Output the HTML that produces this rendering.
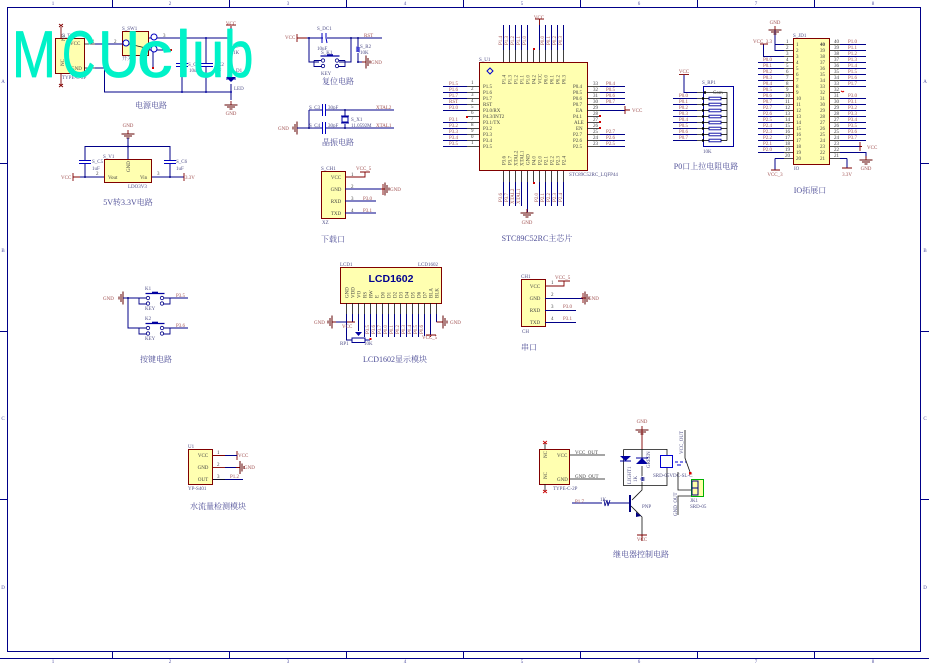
<!DOCTYPE html>
<html><head><meta charset="utf-8"><style>
html,body{margin:0;padding:0;background:#fff}
svg{display:block}
text{font-family:"Liberation Serif","Noto Serif CJK SC",serif}
.n{stroke:#000088;fill:none;stroke-width:1}
.k{stroke:#111;fill:none;stroke-width:.8}
.b{stroke:#800000;fill:none;stroke-width:.9}
.box{stroke:#800000;fill:#ffffb0;stroke-width:1}
.p{font-size:5px;fill:#444}
.w{font-size:5px;fill:#a05050}
.d{font-size:5px;fill:#505088}
.t{font-size:8px;fill:#505098;text-anchor:middle}
.m{text-anchor:middle}
.z{font-size:5px;fill:#5050a0;text-anchor:middle}
.logo text{font-family:"Liberation Sans",sans-serif;font-size:66px;fill:#00f2c8;stroke:#00f2c8;stroke-width:.8px;stroke-linejoin:round}
</style></head><body>
<svg width="929" height="665" viewBox="0 0 929 665" xmlns="http://www.w3.org/2000/svg">
<defs>
<g id="gd" fill="none"><path d="M0 -4V0" stroke="#800000" stroke-width=".9"/><path d="M-6.5 0H6.5" stroke="#600000" stroke-width="1"/><path d="M-4 2H4" stroke="#600000" stroke-width="1"/><path d="M-1.5 4H1.5" stroke="#600000" stroke-width="1"/></g>
<g id="key" fill="none"><path d="M-9.5 -4.5H9.5" stroke="#0000a0" stroke-width="1.2"/><path d="M-3 -5.5H3" stroke="#0000a0" stroke-width="1.6"/><path d="M-16 0V6H-8M-16 0H-8.500M15 0V6H8M15 0H8.500" stroke="#000088" stroke-width=".9"/><circle cx="-7" cy="0" r="1.7" stroke="#000088" stroke-width=".8"/><circle cx="-7" cy="5.500" r="1.7" stroke="#000088" stroke-width=".8"/><circle cx="7" cy="0" r="1.7" stroke="#000088" stroke-width=".8"/><circle cx="7" cy="5.500" r="1.7" stroke="#000088" stroke-width=".8"/></g>
<g id="cv" stroke="#0000c0" stroke-width="1" fill="none"><path d="M-6 -1.500H6M-6 1.500H6"/></g>
<g id="ch" stroke="#0000c0" stroke-width="1" fill="none"><path d="M-1.500 -6V6M1.500 -6V6"/></g>
<g id="rp" fill="none"><path d="M-11 0H-4" stroke="#000" stroke-width=".8"/><rect x="-5" y="-1.300" width="12" height="2.600" stroke="#0000a0" stroke-width=".9" fill="#fff"/><path d="M7 0H13" stroke="#000" stroke-width=".8"/><rect x="-12" y="-1.200" width="2" height="2.400" fill="#000"/></g>
</defs>

<!-- frame -->
<rect x="7.500" y="7.500" width="913" height="644" fill="none" stroke="#000088" stroke-width="1"/>
<path d="M112.500 0V7M229.500 0V7M346.500 0V7M463.500 0V7M580.500 0V7M697.500 0V7M814.500 0V7M112.500 652V659M229.500 652V659M346.500 652V659M463.500 652V659M580.500 652V659M697.500 652V659M814.500 652V659M0 163.500H7M0 331.500H7M0 499.500H7M921 163.500H929M921 331.500H929M921 499.500H929M0 658.500H929" class="n"/>
<g class="z"><text x="53" y="5">1</text><text x="170" y="5">2</text><text x="288" y="5">3</text><text x="405" y="5">4</text><text x="522" y="5">5</text><text x="639" y="5">6</text><text x="756" y="5">7</text><text x="873" y="5">8</text>
<text x="53" y="663">1</text><text x="170" y="663">2</text><text x="288" y="663">3</text><text x="405" y="663">4</text><text x="522" y="663">5</text><text x="639" y="663">6</text><text x="756" y="663">7</text><text x="873" y="663">8</text>
<text x="3" y="83">A</text><text x="3" y="252">B</text><text x="3" y="420">C</text><text x="3" y="589">D</text><text x="925" y="83">A</text><text x="925" y="252">B</text><text x="925" y="420">C</text><text x="925" y="589">D</text></g>

<!-- power -->
<rect x="55.500" y="38.500" width="29" height="35" class="box"/>
<path class="b" d="M61 38V27M61 73V85M59 24l4 3M63 24l-4 3M59 84l4 3M63 84l-4 3" stroke="#a00"/>
<path class="k" d="M84 44H95M84 68H95"/>
<path class="n" d="M95 44H122M95 68H104.500V92H231M148 38H232M182 38V63M182 67V92M206 38V63M206 67V92M231 26V38M231 38V70M231 84V100M148 50H171M153 50V69"/>
<path class="b" d="M231 26V28M226 25H236"/>
<g fill="#0000a0"><circle cx="182" cy="92" r="1"/><circle cx="206" cy="92" r="1"/><circle cx="231" cy="92" r="1"/><circle cx="206" cy="38" r="1"/><circle cx="231" cy="38" r="1"/></g>
<g fill="#d00000"><rect x="170" y="49" width="2" height="2"/><rect x="152" y="67" width="2" height="2"/></g>
<use href="#cv" x="182" y="65"/><use href="#cv" x="207" y="65"/>
<path d="M226 77L231 82L236 77Z" fill="#0000a0"/><path d="M226 79H236" stroke="#0000a0"/>
<use href="#gd" x="231" y="105"/>
<rect x="122.500" y="31.500" width="26" height="24" class="box"/>
<circle cx="126" cy="43" r="3" fill="#fff" stroke="#0000c0"/><circle cx="154" cy="37" r="3" fill="#fff" stroke="#0000c0"/><circle cx="154" cy="49" r="3" fill="#fff" stroke="#0000c0"/>
<path d="M129 44L150 49" class="k"/>
<text class="d" x="62" y="37">S_T1</text><text class="d" x="62" y="79">TYPE-C-2P</text><text class="p" x="67" y="47" transform="rotate(-90 63 45)">NC</text><text class="p" x="62" y="68" transform="rotate(-90 62 66)">NC</text><text class="p" x="70" y="45">VCC</text><text class="p" x="71" y="70">GND</text>
<text class="d" x="122" y="30">S_SW1</text><text class="d" x="122" y="60">开关</text><text class="p" x="92" y="43">1</text><text class="p" x="114" y="43">2</text><text class="p" x="163" y="37">3</text><text class="p" x="90" y="67">2</text>
<text class="w" x="231" y="25" text-anchor="middle">VCC</text><text class="w" x="231" y="115" text-anchor="middle">GND</text>
<text class="d" x="188" y="66">S_C1</text><text class="d" x="189" y="72">10uF</text><text class="d" x="218" y="66">C2</text><text class="d" x="216" y="72">uF</text><text class="d" x="233" y="47">S_R1</text><text class="d" x="233" y="54">1K</text><text class="d" x="236" y="72">D1</text><text class="d" x="234" y="90">LED</text>
<text class="t" x="151" y="108">电源电路</text>

<!-- 5v -->
<use href="#gd" x="128" y="134"/><text class="w m" x="128" y="127">GND</text>
<path class="n" d="M85 146.500H170M128 138V159M85 146V160M85 164V177M170 146V160M170 164V177M80 177H104M151 177H184"/>
<path class="b" d="M73 177H80M73 173V181M184 177H184M184 173V181"/>
<circle cx="128" cy="146.500" r="1" fill="#000088"/><circle cx="85" cy="177" r="1" fill="#000088"/><circle cx="170" cy="177" r="1" fill="#000088"/>
<use href="#cv" x="85" y="162"/><use href="#cv" x="170" y="162"/>
<rect x="104.500" y="159.500" width="47" height="23" class="box"/>
<text class="d" x="103" y="158">S_V1</text><text class="d" x="92" y="163">S_C5</text><text class="d" x="92" y="170">1uF</text><text class="d" x="176" y="163">S_C6</text><text class="d" x="176" y="170">1uF</text>
<text class="p" x="108" y="179">Vout</text><text class="p" x="140" y="179">Vin</text><text class="p" x="130" y="172" transform="rotate(-90 130 172)">GND</text><text class="p" x="96" y="175">2</text><text class="p" x="157" y="175">3</text><text class="d" x="128" y="188">LDO3V3</text>
<text class="w" x="61" y="179">VCC</text><text class="w" x="185" y="179">3.3V</text>
<text class="t" x="128" y="205">5V转3.3V电路</text>

<!-- reset -->
<text class="w" x="285" y="39">VCC</text><path class="b" d="M297 34V42M297 38H307"/>
<path class="n" d="M307 38H323M327 38H382M309 38V62H319M351 38V62H339M358 38V47M358 53V62H364"/>
<circle cx="309" cy="38" r="1" fill="#000088"/><circle cx="351" cy="38" r="1" fill="#000088"/><circle cx="358" cy="38" r="1" fill="#000088"/><circle cx="358" cy="62" r="1" fill="#000088"/>
<path d="M322 33V43M326 33V38L327 43" stroke="#0000c0" fill="none"/>
<use href="#key" x="330" y="60.500"/>
<path d="M356 47l4 1l-4 1l4 1l-4 1l4 1" stroke="#0000c0" fill="none" stroke-width=".8"/>
<use href="#gd" transform="translate(366 62) rotate(-90)"/>
<text class="d" x="317" y="30">S_DC1</text><text class="d" x="317" y="50">10uF</text><text class="d" x="321" y="54">S_K1</text><text class="d" x="321" y="75">KEY</text><text class="w" x="364" y="37">RST</text><text class="d" x="360" y="48">S_R2</text><text class="d" x="360" y="54">10K</text><text class="w" x="371" y="64">GND</text>
<text class="t" x="338" y="84">复位电路</text>

<!-- crystal -->
<text class="w" x="278" y="130">GND</text><use href="#gd" transform="translate(297 128) rotate(90)"/>
<path class="n" d="M297 128H322M326 128H394M326 110H394M309 110H322M309 110V128M345 110V116M345 124V128"/>
<use href="#ch" x="324" y="110"/><use href="#ch" x="324" y="128"/>
<rect x="342" y="117" width="6" height="5" fill="none" stroke="#0000a0"/><path d="M341 116H349M341 123H349" stroke="#0000a0"/>
<circle cx="345" cy="110" r="1" fill="#000088"/><circle cx="345" cy="128" r="1" fill="#000088"/><circle cx="309" cy="128" r="1" fill="#000088"/>
<text class="d" x="309" y="109">S_C3</text><text class="d" x="328" y="109">30pF</text><text class="d" x="309" y="127">S_C4</text><text class="d" x="328" y="127">30pF</text><text class="d" x="351" y="121">S_X1</text><text class="d" x="351" y="127">11.0592M</text><text class="w" x="376" y="109">XTAL2</text><text class="w" x="376" y="127">XTAL1</text>
<text class="t" x="338" y="145">晶振电路</text>

<!-- download -->
<rect x="321.500" y="171.500" width="24" height="47" class="box"/>
<path class="b" d="M345 177H365V172M360 172H370M345 189H345"/>
<path class="n" d="M345 189H382M345 201H376M345 213H376"/>
<path class="b" d="M382 189H385M383 184V195"/><use href="#gd" transform="translate(385 189) rotate(-90)"/>
<text class="d" x="321" y="170">S_CH1</text><text class="d" x="322" y="224">XZ</text><text class="w" x="356" y="170">VCC_5</text>
<text class="p m" x="336" y="179">VCC</text><text class="p m" x="336" y="191">GND</text><text class="p m" x="336" y="203">RXD</text><text class="p m" x="336" y="215">TXD</text>
<text class="p" x="351" y="176">1</text><text class="p" x="351" y="188">2</text><text class="p" x="351" y="200">3</text><text class="p" x="351" y="212">4</text>
<text class="w" x="390" y="191">GND</text><text class="w" x="363" y="200">P3.0</text><text class="w" x="363" y="212">P3.1</text>
<text class="t" x="333" y="242">下载口</text>

<!-- MCU -->
<rect x="479.500" y="62.500" width="108" height="108" class="box"/>
<path class="k" d="M467 86.500H479M467 92.500H479M467 98.500H479M467 104.500H479M467 110.500H479M467 116.500H479M467 122.500H479M467 128.500H479M467 134.500H479M467 140.500H479M467 146.500H479M587 86.500H600M587 92.500H600M587 98.500H600M587 104.500H600M587 110.500H600M587 116.500H600M587 122.500H600M587 128.500H600M587 134.500H600M587 140.500H600M587 146.500H600M503.500 50V62M509.500 50V62M515.500 50V62M521.500 50V62M527.500 50V62M533.500 50V62M539.500 50V62M545.500 50V62M551.500 50V62M557.500 50V62M563.500 50V62M503.500 171V182M509.500 171V182M515.500 171V182M521.500 171V182M527.500 171V182M533.500 171V182M539.500 171V182M545.500 171V182M551.500 171V182M557.500 171V182M563.500 171V182"/>
<path class="n" d="M443 86.500H467M443 92.500H467M443 98.500H467M443 104.500H467M443 110.500H467M443 122.500H467M443 128.500H467M443 134.500H467M443 140.500H467M443 146.500H467M600 86.500H625M600 92.500H625M600 98.500H625M600 104.500H625M600 110.500H625M600 134.500H625M600 140.500H625M600 146.500H625M503.500 25V50M509.500 25V50M515.500 25V50M521.500 25V50M527.500 25V50M539.500 25V50M545.500 25V50M551.500 25V50M557.500 25V50M563.500 25V50M503.500 182V206M509.500 182V206M515.500 182V206M521.500 182V206M527.500 182V212M539.500 182V206M545.500 182V206M551.500 182V206M557.500 182V206M563.500 182V206"/>
<path class="b" d="M535 19H544M539.500 19V25M625 106V114M625 110H630"/>
<use href="#gd" x="527" y="213"/>
<path d="M487 71l3 -3l3 3l-3 3z" fill="none" stroke="#0000d0"/>
<g fill="#d00000"><rect x="533" y="48" width="2" height="2"/><rect x="533" y="182" width="2" height="2"/><rect x="466" y="116" width="2" height="2"/><rect x="599" y="115" width="2" height="2"/><rect x="599" y="121" width="2" height="2"/><rect x="599" y="127" width="2" height="2"/></g>
<text class="d" x="479" y="61">S_U1</text><text class="w m" x="539" y="19">VCC</text><text class="w" x="632" y="112">VCC</text><text class="w m" x="527" y="224">GND</text><text class="d" x="569" y="176">STC89C52RC_LQFP44</text>
<g class="p"><text x="483" y="88">P1.5</text><text x="483" y="94">P1.6</text><text x="483" y="100">P1.7</text><text x="483" y="106">RST</text><text x="483" y="112">P3.0/RX</text><text x="483" y="118">P4.3/INT2</text><text x="483" y="124">P3.1/TX</text><text x="483" y="130">P3.2</text><text x="483" y="136">P3.3</text><text x="483" y="142">P3.4</text><text x="483" y="148">P3.5</text>
<text x="573" y="88">P0.4</text><text x="573" y="94">P0.5</text><text x="573" y="100">P0.6</text><text x="573" y="106">P0.7</text><text x="576" y="112">EA</text><text x="573" y="118">P4.1</text><text x="574" y="124">ALE</text><text x="576" y="130">EN</text><text x="573" y="136">P2.7</text><text x="573" y="142">P2.6</text><text x="573" y="148">P2.5</text>
<text x="471" y="84">1</text><text x="471" y="90">2</text><text x="471" y="96">3</text><text x="471" y="102">4</text><text x="471" y="108">5</text><text x="471" y="114">6</text><text x="471" y="120">7</text><text x="471" y="126">8</text><text x="471" y="132">9</text><text x="471" y="138">0</text><text x="471" y="144">1</text>
<text x="593" y="85">33</text><text x="593" y="91">32</text><text x="593" y="97">31</text><text x="593" y="103">30</text><text x="593" y="109">29</text><text x="593" y="115">28</text><text x="593" y="121">27</text><text x="593" y="127">26</text><text x="593" y="133">25</text><text x="593" y="139">24</text><text x="593" y="145">23</text></g>
<g class="w"><text x="449" y="85">P1.5</text><text x="449" y="91">P1.6</text><text x="449" y="97">P1.7</text><text x="449" y="103">RST</text><text x="449" y="109">P3.0</text><text x="449" y="121">P3.1</text><text x="449" y="127">P3.2</text><text x="449" y="133">P3.3</text><text x="449" y="139">P3.4</text><text x="449" y="145">P3.5</text>
<text x="606" y="85">P0.4</text><text x="606" y="91">P0.5</text><text x="606" y="97">P0.6</text><text x="606" y="103">P0.7</text><text x="606" y="133">P2.7</text><text x="606" y="139">P2.6</text><text x="606" y="145">P2.5</text>
<text transform="translate(502 45) rotate(-90)">P1.4</text><text transform="translate(508 45) rotate(-90)">P1.3</text><text transform="translate(514 45) rotate(-90)">P1.2</text><text transform="translate(520 45) rotate(-90)">P1.1</text><text transform="translate(526 45) rotate(-90)">P1.0</text><text transform="translate(544 45) rotate(-90)">P0.0</text><text transform="translate(550 45) rotate(-90)">P0.1</text><text transform="translate(556 45) rotate(-90)">P0.2</text><text transform="translate(562 45) rotate(-90)">P0.3</text>
<text transform="translate(502 202) rotate(-90)">P3.6</text><text transform="translate(508 202) rotate(-90)">P3.7</text><text transform="translate(514 204) rotate(-90)">XTAL2</text><text transform="translate(520 204) rotate(-90)">XTAL1</text><text transform="translate(538 202) rotate(-90)">P2.0</text><text transform="translate(544 202) rotate(-90)">P2.1</text><text transform="translate(550 202) rotate(-90)">P2.2</text><text transform="translate(556 202) rotate(-90)">P2.3</text><text transform="translate(562 202) rotate(-90)">P2.4</text></g>
<g class="p"><text transform="translate(505.500 84) rotate(-90)">P1.4</text><text transform="translate(511.500 84) rotate(-90)">P1.3</text><text transform="translate(517.500 84) rotate(-90)">P1.2</text><text transform="translate(523.500 84) rotate(-90)">P1.1</text><text transform="translate(529.500 84) rotate(-90)">P1.0</text><text transform="translate(535.500 84) rotate(-90)">P4.2</text><text transform="translate(541.500 84) rotate(-90)">VCC</text><text transform="translate(547.500 84) rotate(-90)">P0.0</text><text transform="translate(553.500 84) rotate(-90)">P0.1</text><text transform="translate(559.500 84) rotate(-90)">P0.2</text><text transform="translate(565.500 84) rotate(-90)">P0.3</text>
<text transform="translate(505.500 165) rotate(-90)">P3.6</text><text transform="translate(511.500 165) rotate(-90)">P3.7</text><text transform="translate(517.500 166) rotate(-90)">XTAL2</text><text transform="translate(523.500 166) rotate(-90)">XTAL1</text><text transform="translate(529.500 165) rotate(-90)">GND</text><text transform="translate(535.500 165) rotate(-90)">P4.0</text><text transform="translate(541.500 165) rotate(-90)">P2.0</text><text transform="translate(547.500 165) rotate(-90)">P2.1</text><text transform="translate(553.500 165) rotate(-90)">P2.2</text><text transform="translate(559.500 165) rotate(-90)">P2.3</text><text transform="translate(565.500 165) rotate(-90)">P2.4</text></g>
<text class="t" x="537" y="241" style="font-size:8px">STC89C52RC主芯片</text>

<!-- P0 pullup -->
<rect x="703.500" y="86.500" width="30" height="60" fill="none" stroke="#0000a0" stroke-width="1"/>
<path class="b" d="M684 75V80"/><path class="b" d="M679 74.500H689"/>
<path class="n" d="M684 75V92.500H697M673 98.500H697M673 104.500H697M673 110.500H697M673 116.500H697M673 122.500H697M673 128.500H697M673 134.500H697M673 140.500H697"/>
<path class="k" d="M697 92.500H727V140.500M697 98.500H703M697 104.500H703M697 110.500H703M697 116.500H703M697 122.500H703M697 128.500H703M697 134.500H703M697 140.500H703M722 98.500H727"/>
<use href="#rp" x="714" y="98.500"/><use href="#rp" x="714" y="104.500"/><use href="#rp" x="714" y="110.500"/><use href="#rp" x="714" y="116.500"/><use href="#rp" x="714" y="122.500"/><use href="#rp" x="714" y="128.500"/><use href="#rp" x="714" y="134.500"/><use href="#rp" x="714" y="140.500"/><rect x="704" y="91.300" width="2" height="2.400" fill="#000"/>
<text class="w m" x="684" y="73">VCC</text><text class="d" x="702" y="84">S_RP1</text><text class="p" x="713" y="94">Com</text><text class="d" x="703" y="153">10K</text>
<g class="w"><text x="679" y="97">P0.0</text><text x="679" y="103">P0.1</text><text x="679" y="109">P0.2</text><text x="679" y="115">P0.3</text><text x="679" y="121">P0.4</text><text x="679" y="127">P0.5</text><text x="679" y="133">P0.6</text><text x="679" y="139">P0.7</text></g>
<text class="t" x="706" y="169">P0口上拉电阻电路</text>

<!-- IO -->
<rect x="793.500" y="38.500" width="36" height="126" class="box"/>
<path class="k" d="M784 44.500H793M784 50.500H793M784 56.500H793M784 62.500H793M784 68.500H793M784 74.500H793M784 80.500H793M784 86.500H793M784 92.500H793M784 98.500H793M784 104.500H793M784 110.500H793M784 116.500H793M784 122.500H793M784 128.500H793M784 134.500H793M784 140.500H793M784 146.500H793M784 152.500H793M784 158.500H793M830 44.500H840M830 50.500H840M830 56.500H840M830 62.500H840M830 68.500H840M830 74.500H840M830 80.500H840M830 86.500H840M830 92.500H840M830 98.500H840M830 104.500H840M830 110.500H840M830 116.500H840M830 122.500H840M830 128.500H840M830 134.500H840M830 140.500H840M830 146.500H840M830 152.500H840M830 158.500H840"/>
<path class="n" d="M758 62.500H784M758 68.500H784M758 74.500H784M758 80.500H784M758 86.500H784M758 92.500H784M758 98.500H784M758 104.500H784M758 110.500H784M758 116.500H784M758 122.500H784M758 128.500H784M758 134.500H784M758 140.500H784M758 146.500H784M758 152.500H784M775 44.500V50.500H784M775 44.500H784M775 30V50M763.500 44V56.500H784M775 158.500H784V158.500M775 158.500V170M840 44.500H866M840 50.500H866M840 56.500H866M840 62.500H866M840 68.500H866M840 74.500H866M840 80.500H866M840 86.500H866M840 98.500H866M840 104.500H866M840 110.500H866M840 116.500H866M840 122.500H866M840 128.500H866M840 134.500H866M840 140.500H866M840 146.500H860M840 152.500H866V158M847 158.500V168M840 158.500H847"/>
<use href="#gd" x="775" y="30"/><path class="b" d="M860 142V151M860 146.500H862M760 44H768M771 170H780M842 168H852"/>
<use href="#gd" x="866" y="160"/>
<path d="M841 91l2 1M843 92l1 -1" stroke="#d00"/>
<text class="w m" x="775" y="24">GND</text><text class="d" x="793" y="37">S_JD1</text><text class="w" x="753" y="43">VCC_3.3</text><text class="w m" x="775" y="176">VCC_3</text><text class="w m" x="847" y="176">3.3V</text><text class="w" x="867" y="149">VCC</text><text class="w m" x="866" y="170">GND</text><text class="d" x="794" y="170">IO</text>
<text class="t" x="810" y="193">IO拓展口</text>
<g class="w"><text x="763" y="61">P0.0</text><text x="763" y="67">P0.1</text><text x="763" y="73">P0.2</text><text x="763" y="79">P0.3</text><text x="763" y="85">P0.4</text><text x="763" y="91">P0.5</text><text x="763" y="97">P0.6</text><text x="763" y="103">P0.7</text><text x="763" y="109">P2.7</text><text x="763" y="115">P2.6</text><text x="763" y="121">P2.5</text><text x="763" y="127">P2.4</text><text x="763" y="133">P2.3</text><text x="763" y="139">P2.2</text><text x="763" y="145">P2.1</text><text x="763" y="151">P2.0</text>
<text x="848" y="43">P1.0</text><text x="848" y="49">P1.1</text><text x="848" y="55">P1.2</text><text x="848" y="61">P1.3</text><text x="848" y="67">P1.4</text><text x="848" y="73">P1.5</text><text x="848" y="79">P1.6</text><text x="848" y="85">P1.7</text><text x="848" y="97">P3.0</text><text x="848" y="103">P3.1</text><text x="848" y="109">P3.2</text><text x="848" y="115">P3.3</text><text x="848" y="121">P3.4</text><text x="848" y="127">P3.5</text><text x="848" y="133">P3.6</text><text x="848" y="139">P3.7</text></g>
<g class="p"><text x="786" y="43">1</text><text x="786" y="49">2</text><text x="786" y="55">3</text><text x="786" y="61">4</text><text x="786" y="67">5</text><text x="786" y="73">6</text><text x="786" y="79">7</text><text x="786" y="85">8</text><text x="786" y="91">9</text><text x="785" y="97">10</text><text x="785" y="103">11</text><text x="785" y="109">12</text><text x="785" y="115">13</text><text x="785" y="121">14</text><text x="785" y="127">15</text><text x="785" y="133">16</text><text x="785" y="139">17</text><text x="785" y="145">18</text><text x="785" y="151">19</text><text x="785" y="157">20</text>
<text x="796" y="46">1</text><text x="796" y="52">2</text><text x="796" y="58">3</text><text x="796" y="64">4</text><text x="796" y="70">5</text><text x="796" y="76">6</text><text x="796" y="82">7</text><text x="796" y="88">8</text><text x="796" y="94">9</text><text x="796" y="100">10</text><text x="796" y="106">11</text><text x="796" y="112">12</text><text x="796" y="118">13</text><text x="796" y="124">14</text><text x="796" y="130">15</text><text x="796" y="136">16</text><text x="796" y="142">17</text><text x="796" y="148">18</text><text x="796" y="154">19</text><text x="796" y="160">20</text>
<text x="820" y="46" font-weight="bold">40</text><text x="820" y="52">39</text><text x="820" y="58">38</text><text x="820" y="64">37</text><text x="820" y="70">36</text><text x="820" y="76">35</text><text x="820" y="82">34</text><text x="820" y="88">33</text><text x="820" y="94">32</text><text x="820" y="100">31</text><text x="820" y="106">30</text><text x="820" y="112">29</text><text x="820" y="118">28</text><text x="820" y="124">27</text><text x="820" y="130">26</text><text x="820" y="136">25</text><text x="820" y="142">24</text><text x="820" y="148">23</text><text x="820" y="154">22</text><text x="820" y="160">21</text>
<text x="834" y="43">40</text><text x="834" y="49">39</text><text x="834" y="55">38</text><text x="834" y="61">37</text><text x="834" y="67">36</text><text x="834" y="73">35</text><text x="834" y="79">34</text><text x="834" y="85">33</text><text x="834" y="91">32</text><text x="834" y="97">31</text><text x="834" y="103">30</text><text x="834" y="109">29</text><text x="834" y="115">28</text><text x="834" y="121">27</text><text x="834" y="127">26</text><text x="834" y="133">25</text><text x="834" y="139">24</text><text x="834" y="145">23</text><text x="834" y="151">22</text><text x="834" y="157">21</text></g>

<!-- LCD -->
<rect x="340.500" y="267.500" width="101" height="36" class="box"/>
<text x="391" y="282" font-size="10.500" font-weight="bold" fill="#000090" text-anchor="middle" style='font-family:"Liberation Sans",sans-serif'>LCD1602</text>
<text class="d" x="340" y="266">LCD1</text><text class="d" x="418" y="266">LCD1602</text>
<path class="k" d="M346.500 303V314M352.500 303V314M358.500 303V314M364.500 303V314M370.500 303V314M376.500 303V314M382.500 303V314M388.500 303V314M394.500 303V314M400.500 303V314M406.500 303V314M412.500 303V314M418.500 303V314M424.500 303V314M430.500 303V314M436.500 303V314"/>
<path class="n" d="M346.500 314V332M352.500 314V322M358.500 314V328M364.500 314V337M370.500 314V337M376.500 314V337M382.500 314V337M388.500 314V337M394.500 314V337M400.500 314V337M406.500 314V337M412.500 314V337M418.500 314V337M424.500 314V336M430.500 314V335M436.500 314V322M332 322H346.500M358.500 328H358.500V331M346.500 322V340H352"/>
<path d="M355 332H362L358.500 336Z" fill="#0000a0"/><rect x="352" y="338" width="13" height="4.500" fill="#fff" stroke="#000090"/>
<path d="M365 340H370" stroke="#000090"/><rect x="369.500" y="338" width="2" height="2" fill="#d00"/>
<path class="b" d="M347 322H355M430.500 336V337M426 335H436M436.500 322H443"/>
<use href="#gd" transform="translate(332 322) rotate(90)"/><use href="#gd" transform="translate(443 322) rotate(-90)"/>
<text class="w" x="314" y="324">GND</text><text class="w" x="450" y="324">GND</text><text class="w" x="422" y="339">VCC_5</text><text class="w" x="342" y="328">VCC</text><text class="d" x="340" y="345">RP1</text><text class="d" x="364" y="345">10K</text>
<g class="p"><text transform="translate(348.500 298) rotate(-90)">GND</text><text transform="translate(354.500 298) rotate(-90)">VDD</text><text transform="translate(360.500 298) rotate(-90)">VO</text><text transform="translate(366.500 298) rotate(-90)">RS</text><text transform="translate(372.500 298) rotate(-90)">RW</text><text transform="translate(378.500 298) rotate(-90)">E</text><text transform="translate(384.500 298) rotate(-90)">D0</text><text transform="translate(390.500 298) rotate(-90)">D1</text><text transform="translate(396.500 298) rotate(-90)">D2</text><text transform="translate(402.500 298) rotate(-90)">D3</text><text transform="translate(408.500 298) rotate(-90)">D4</text><text transform="translate(414.500 298) rotate(-90)">D5</text><text transform="translate(420.500 298) rotate(-90)">D6</text><text transform="translate(426.500 298) rotate(-90)">D7</text><text transform="translate(432.500 298) rotate(-90)">BLA</text><text transform="translate(438.500 298) rotate(-90)">BLK</text></g>
<g class="w"><text transform="translate(369 334) rotate(-90)">P3.5</text><text transform="translate(375 334) rotate(-90)">P3.6</text><text transform="translate(381 334) rotate(-90)">P3.7</text><text transform="translate(387 334) rotate(-90)">P0.0</text><text transform="translate(393 334) rotate(-90)">P0.1</text><text transform="translate(399 334) rotate(-90)">P0.2</text><text transform="translate(405 334) rotate(-90)">P0.3</text><text transform="translate(411 334) rotate(-90)">P0.4</text><text transform="translate(417 334) rotate(-90)">P0.5</text><text transform="translate(423 334) rotate(-90)">P0.6</text></g>
<text class="t" x="395" y="362">LCD1602显示模块</text>

<!-- serial -->
<rect x="521.500" y="279.500" width="24" height="47" class="box"/>
<path class="b" d="M545 286H564V281M558 281H570"/>
<path class="n" d="M545 298.500H583M545 310.500H576M545 322.500H576"/>
<path class="b" d="M583 298H586M583 293V303"/><use href="#gd" transform="translate(585 298) rotate(-90)"/>
<text class="d" x="521" y="278">CH1</text><text class="d" x="522" y="333">CH</text><text class="w" x="555" y="279">VCC_5</text><text class="w" x="588" y="300">GND</text>
<text class="p m" x="535" y="288">VCC</text><text class="p m" x="535" y="300">GND</text><text class="p m" x="535" y="312">RXD</text><text class="p m" x="535" y="324">TXD</text>
<text class="p" x="551" y="284">1</text><text class="p" x="551" y="296">2</text><text class="p" x="551" y="308">3</text><text class="p" x="551" y="320">4</text><text class="w" x="563" y="308">P3.0</text><text class="w" x="563" y="320">P3.1</text>
<text class="t" x="529" y="350">串口</text>

<!-- keys -->
<text class="w" x="103" y="300">GND</text><use href="#gd" transform="translate(123 298) rotate(90)"/>
<path class="n" d="M123 298H139M128 298V328H139M170 298H188M170 328H188"/>
<circle cx="128" cy="298" r="1" fill="#000088"/>
<use href="#key" x="155" y="298"/><use href="#key" x="155" y="328"/>
<text class="d" x="145" y="290">K1</text><text class="d" x="145" y="310">KEY</text><text class="d" x="145" y="320">K2</text><text class="d" x="145" y="340">KEY</text><text class="w" x="176" y="297">P3.5</text><text class="w" x="176" y="327">P3.6</text>
<text class="t" x="156" y="362">按键电路</text>

<!-- water -->
<rect x="188.500" y="449.500" width="24" height="35" class="box"/>
<path class="b" d="M213 455.500H237M237 451V460"/><path class="n" d="M225 455.500H237M225 467.500H237M213 479.500H243"/><path class="b" d="M213 467.500H225"/><path class="k" d="M213 479.500H225"/>
<use href="#gd" transform="translate(240 467.500) rotate(-90)"/><path class="b" d="M237 467.500H240"/>
<text class="d" x="188" y="448">U1</text><text class="d" x="188" y="490">YP-S401</text><text class="p m" x="203" y="457">VCC</text><text class="p m" x="203" y="469">GND</text><text class="p m" x="203" y="481">OUT</text>
<text class="p" x="217" y="454">1</text><text class="p" x="217" y="466">2</text><text class="p" x="217" y="478">3</text><text class="w" x="238" y="457">VCC</text><text class="w" x="244" y="469">GND</text><text class="w" x="230" y="478">P1.2</text>
<text class="t" x="218" y="509">水流量检测模块</text>

<!-- relay -->
<rect x="539.500" y="449.500" width="30" height="35" class="box"/>
<path class="k" d="M545 449V443M545 484V491"/><path d="M543 441l4 3M547 441l-4 3M543 490l4 3M547 490l-4 3" stroke="#c00" stroke-width=".8"/>
<path class="k" d="M570 455H605M570 479H605"/>
<text class="p" x="542" y="457" transform="rotate(-90 545 455)">NC</text><text class="p" x="542" y="478" transform="rotate(-90 545 476)">NC</text><text class="p" x="557" y="457">VCC</text><text class="p" x="557" y="481">GND</text>
<text class="p" x="575" y="454">VCC_OUT</text><text class="p" x="575" y="478">GND_OUT</text><text class="d" x="553" y="490">TYPE-C-2P</text>
<text class="w m" x="642" y="423">GND</text><use href="#gd" x="642" y="430"/>
<path class="k" d="M623.500 449.500H667V485.500H623.500V449.500M642 449V458M642 466V476M642 482V490L632 500M667 449V455M667 467V485"/>
<rect x="660.500" y="455.500" width="12" height="12" fill="#fff" stroke="#0000d0" stroke-width="1"/>
<path class="b" d="M642 430V449"/>
<path d="M620 456H631L625.500 461Z" fill="#0000a0"/><path d="M620 461H631" stroke="#0000a0"/><path d="M636 464H648L642 458Z" fill="#0000a0"/><path d="M636 458H648" stroke="#0000a0"/><path d="M641 477l3 1l-3 1l3 1l-3 1" fill="none" stroke="#000080" stroke-width=".8"/>
<path class="n" d="M572 503H602M607 503H630"/><path d="M604 500l1 6l2 -6l1 6l2 -6" fill="none" stroke="#000088" stroke-width=".8"/><path d="M630 495V512" stroke="#000080" stroke-width="2"/>
<path d="M631 506L642 517V540" class="k"/><path d="M636 512L641 516L636 517Z" fill="#000080"/>
<path class="b" d="M642 535V541M637 535H647"/>
<text class="w" x="575" y="503">P1.7</text><text class="d" x="600" y="501">1K</text><text class="d" x="642" y="508">PNP</text><text class="w m" x="642" y="541">VCC</text>
<text class="d" transform="translate(631 484) rotate(-90)">LIGHT1</text><text class="d" transform="translate(650 468) rotate(-90)">GREEN</text><text class="d" x="637" y="482" transform="rotate(-90 637 482)">1K</text>
<text class="d" x="653" y="477">SRD-05VDC-SL-C</text>
<path d="M675 462H686" stroke="#0000d0" stroke-dasharray="3 2"/>
<path class="k" d="M685 430V458L690 472M678 472V490H692M692 496H678V515"/><path d="M677 465H681" stroke="#0000d0"/><rect x="689" y="472" width="2.500" height="2.500" fill="#d00"/>
<rect x="691.500" y="479.500" width="12" height="17" fill="#ffffa8" stroke="#00b000" stroke-width="1"/>
<rect x="692" y="481" width="6" height="7" fill="none" stroke="#000080"/><rect x="692" y="488" width="6" height="7" fill="none" stroke="#000080"/>
<text class="d" transform="translate(683 454) rotate(-90)">VCC_OUT</text>
<text class="d" transform="translate(677 516) rotate(-90)">GND_OUT</text>
<text class="d" x="690" y="502">JK1</text><text class="d" x="690" y="508">SRD-05</text>
<text class="t" x="641" y="557">继电器控制电路</text>

<!-- logo -->
<g class="logo">
<text transform="translate(12 77) scale(.8 1)">M</text>
<text transform="translate(62 77) scale(.7 1)">C</text>
<text transform="translate(98 77) scale(.88 1)">U</text>
<text transform="translate(137 77) scale(1.08 1)">c</text>
<text transform="translate(176 77)">l</text>
<text transform="translate(192 77) scale(.88 1)">u</text>
<text transform="translate(224 77) scale(.8 1)">b</text>
</g>
</svg>
</body></html>
